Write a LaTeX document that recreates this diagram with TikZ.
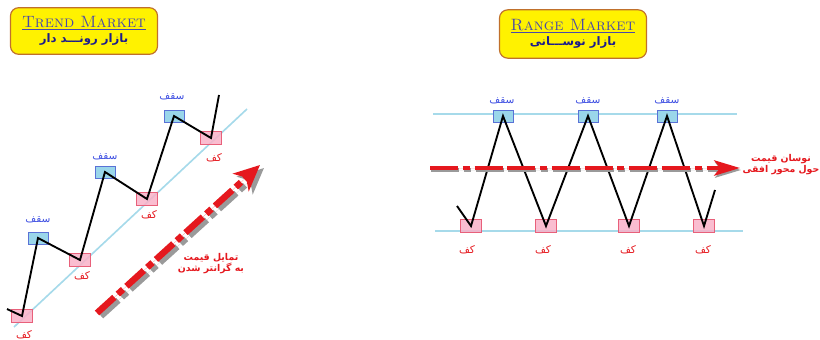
\documentclass[tikz,border=0pt]{standalone}
\usepackage{fontspec}
\usetikzlibrary{arrows.meta}
\newfontfamily\arabicfont[Script=Arabic]{DejaVu Sans}
\TeXXeTstate=1
\newcommand{\fatxt}[1]{\beginR #1\endR}
\definecolor{titlefill}{HTML}{FFF200}
\definecolor{titleedge}{HTML}{C0702C}
\definecolor{titleink}{HTML}{4A4AA8}
\definecolor{navy}{HTML}{1C1C8C}
\definecolor{topfill}{HTML}{9AD6EA}
\definecolor{topedge}{HTML}{5A72D6}
\definecolor{lowfill}{HTML}{F9B2C8}
\definecolor{lowedge}{HTML}{E8607A}
\definecolor{trendln}{HTML}{A6DAEA}
\definecolor{redink}{HTML}{E5181E}
\definecolor{shadowgray}{HTML}{9A9A9A}
\tikzset{
  titlebox/.style={draw=titleedge, fill=titlefill, rounded corners=7pt, line width=1pt,
                   align=center, minimum width=4.41cm, minimum height=1.4cm, inner sep=2pt},
  topbox/.style={draw=topedge, fill=topfill, minimum width=0.6cm, minimum height=0.36cm, inner sep=0pt},
  lowbox/.style={draw=lowedge, fill=lowfill, fill opacity=0.85, minimum width=0.62cm,
                 minimum height=0.39cm, inner sep=0pt},
  toplbl/.style={font=\arabicfont\small, text=topedge!70!blue},
  lowlbl/.style={font=\arabicfont\small, text=redink},
  redlbl/.style={font=\arabicfont\bfseries\footnotesize, text=redink, align=center},
  price/.style={line width=1.6pt, black},
  level/.style={line width=1.4pt, trendln},
  bigar/.style={-{Stealth[length=22pt, width=20pt, inset=6pt]}, line width=5.5pt, draw=redink,
                fill=redink, dash pattern=on 20pt off 4pt on 6pt off 4pt},
  sidear/.style={-{Stealth[length=22pt, width=13pt, inset=5pt]}, line width=3.4pt, draw=redink,
                fill=redink, dash pattern=on 24pt off 4pt on 6pt off 4pt on 24pt off 4pt},
  arshadow/.style={draw=shadowgray, fill=shadowgray}
}
\begin{document}
\begin{tikzpicture}[x=0.03cm, y=-0.03cm]
  \useasboundingbox (0,0) rectangle (820,340);

  % titles
  \node[titlebox] (ttrend) at (84,31)
     {{\fontsize{14}{16}\selectfont\color{titleink}\underline{\textsc{Trend Market}}}\\[1pt]
      {\arabicfont\bfseries\normalsize\color{navy}\fatxt{بازار رونـــد دار}}};
  \node[titlebox, minimum height=1.45cm] (trange) at (573,34)
     {{\fontsize{14}{16}\selectfont\color{titleink}\underline{\textsc{Range Market}}}\\[1pt]
      {\arabicfont\bfseries\normalsize\color{navy}\fatxt{بازار نوســـانی}}};

  % trend market
  \draw[level] (14,327) coordinate (l0) -- (247,109) coordinate (l1);
  \node[lowbox] (b1) at (22,316) {};
  \node[topbox] (t1) at (38,238) {};
  \node[lowbox] (b2) at (80,260) {};
  \node[topbox] (t2) at (105,172) {};
  \node[lowbox] (b3) at (147,199) {};
  \node[topbox] (t3) at (174,116) {};
  \node[lowbox] (b4) at (211,138) {};
  \coordinate (s0) at (7,309);
  \coordinate (s1) at (219,95);
  \draw[price] (s0) -- (b1.center) -- (t1.center) -- (b2.center) -- (t2.center)
     -- (b3.center) -- (t3.center) -- (b4.center) -- (s1);
  \node[toplbl] (qt1) at (38,220) {\fatxt{سقف}};
  \node[toplbl] (qt2) at (105,157) {\fatxt{سقف}};
  \node[toplbl] (qt3) at (172,97) {\fatxt{سقف}};
  \node[lowlbl] (kb1) at (24,335) {\fatxt{کف}};
  \node[lowlbl] (kb2) at (82,276) {\fatxt{کف}};
  \node[lowlbl] (kb3) at (149,215) {\fatxt{کف}};
  \node[lowlbl] (kb4) at (214,158) {\fatxt{کف}};

  \coordinate (ua) at (97,313);
  \coordinate (ub) at (260,165);
  \draw[bigar, arshadow] ([shift={(4,3)}]ua) -- ([shift={(4,3)}]ub);
  \draw[bigar] (ua) -- (ub);
  \node[redlbl] (uptxt) at (211,264) {\fatxt{تمایل قیمت}\\\fatxt{به گرانتر شدن}};

  % range market
  \draw[level] (433,114) coordinate (h0) -- (737,114) coordinate (h1);
  \draw[level] (435,231) coordinate (f0) -- (743,231) coordinate (f1);
  \node[lowbox] (rb1) at (471,226) {};
  \node[lowbox] (rb2) at (546,226) {};
  \node[lowbox] (rb3) at (629,226) {};
  \node[lowbox] (rb4) at (704,226) {};
  \node[topbox] (rt1) at (503,116) {};
  \node[topbox] (rt2) at (588,116) {};
  \node[topbox] (rt3) at (667,116) {};
  \coordinate (r0) at (457,206);
  \coordinate (r1) at (715,190);
  \draw[price] (r0) -- (rb1.center) -- (rt1.center) -- (rb2.center) -- (rt2.center)
     -- (rb3.center) -- (rt3.center) -- (rb4.center) -- (r1);
  \node[toplbl] (rq1) at (502,101) {\fatxt{سقف}};
  \node[toplbl] (rq2) at (588,101) {\fatxt{سقف}};
  \node[toplbl] (rq3) at (667,101) {\fatxt{سقف}};
  \node[lowlbl] (rk1) at (467,250) {\fatxt{کف}};
  \node[lowlbl] (rk2) at (543,250) {\fatxt{کف}};
  \node[lowlbl] (rk3) at (628,250) {\fatxt{کف}};
  \node[lowlbl] (rk4) at (703,250) {\fatxt{کف}};

  \coordinate (ha) at (430,168);
  \coordinate (hb) at (740,168);
  \draw[sidear, arshadow] ([shift={(1,2)}]ha) -- ([shift={(1,2)}]hb);
  \draw[sidear] (ha) -- (hb);
  \node[redlbl] (sidetxt) at (781,165) {\fatxt{نوسان قیمت}\\\fatxt{حول محور افقی}};
\end{tikzpicture}
\end{document}
